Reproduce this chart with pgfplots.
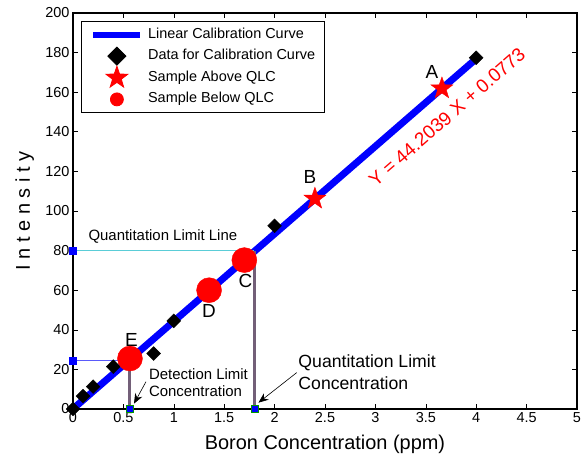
\documentclass[border=0pt]{standalone}
\usepackage{fontspec}
\setmainfont{Liberation Sans}
\usepackage{pgfplots}
\pgfplotsset{compat=1.18}
\usetikzlibrary{arrows.meta}

% filled five-pointed star (MATLAB pentagram)
\pgfdeclareplotmark{fstar}{%
  \pgfpathmoveto{\pgfpointpolar{90}{\pgfplotmarksize}}%
  \pgfpathlineto{\pgfpointpolar{126}{0.4*\pgfplotmarksize}}%
  \pgfpathlineto{\pgfpointpolar{162}{\pgfplotmarksize}}%
  \pgfpathlineto{\pgfpointpolar{198}{0.4*\pgfplotmarksize}}%
  \pgfpathlineto{\pgfpointpolar{234}{\pgfplotmarksize}}%
  \pgfpathlineto{\pgfpointpolar{270}{0.4*\pgfplotmarksize}}%
  \pgfpathlineto{\pgfpointpolar{306}{\pgfplotmarksize}}%
  \pgfpathlineto{\pgfpointpolar{342}{0.4*\pgfplotmarksize}}%
  \pgfpathlineto{\pgfpointpolar{18}{\pgfplotmarksize}}%
  \pgfpathlineto{\pgfpointpolar{54}{0.4*\pgfplotmarksize}}%
  \pgfpathclose
  \pgfusepathqfillstroke}

\definecolor{qline}{RGB}{90,205,215}
\definecolor{dline}{RGB}{90,90,250}
\definecolor{vline}{RGB}{115,95,120}

\begin{document}
\begin{tikzpicture}
\begin{axis}[
  scale only axis, width=504bp, height=396bp,
  xmin=0, xmax=5, ymin=0, ymax=200,
  xtick={0,0.5,...,5}, ytick={0,20,...,200},
  tick align=inside, major tick length=5bp,
  axis line style={line width=1.2bp},
  tick style={black, line width=0.6bp},
  ticklabel style={font=\fontsize{14.5}{17}\selectfont},
  /pgf/number format/assume math mode=true,
  xlabel={Boron Concentration (ppm)}, ylabel={I n t e n s i t y},
  label style={font=\fontsize{20}{23}\selectfont},
  xlabel style={at={(axis description cs:0.5,-0.102)}, anchor=base},
  ylabel style={at={(axis description cs:-0.096,0.5)}, anchor=center},
  clip=false,
  legend cell align=left,
  legend style={at={(axis description cs:0.0159,0.9806)}, anchor=north west,
    draw=black, line width=0.8bp, fill=white,
    font=\fontsize{14.5}{17}\selectfont,
    inner xsep=9bp, inner ysep=7bp, row sep=8.6bp,
    nodes={inner sep=0bp, text height=10bp, text depth=3bp},
    /tikz/every odd column/.style={column sep=4.7bp}},
]
\addplot[blue, line width=7bp,
  legend image code/.code={\draw[blue, line width=6bp] (0bp,0bp) -- (47bp,0bp);}]
  coordinates {(0,0.0773)(4,176.89)};
\addlegendentry{Linear Calibration Curve}

\addplot[only marks, mark=square*, mark size=4.9bp, mark options={rotate=45, fill=black, draw=black},
  legend image code/.code={\path[draw=none] (0bp,0bp) -- (47bp,0bp);
    \path[overlay, draw=none] plot[mark size=6.4bp] coordinates {(23.5bp,0bp)};}]
  coordinates {(0,0)(0.1,6.5)(0.2,11.3)(0.4,21.4)(0.8,28)(1,44.5)(2,92.5)(4,177.4)};
\addlegendentry{Data for Calibration Curve}

\addplot[only marks, mark=fstar, mark size=11.5bp, red, mark options={fill=red, draw=red},
  legend image code/.code={\path[draw=none] (0bp,0bp) -- (47bp,0bp);
    \path[overlay, draw=none] plot[mark size=11.5bp] coordinates {(23.5bp,0bp)};}]
  coordinates {(3.66,161.9)(2.4,106.2)};
\addlegendentry{Sample Above QLC}

\addplot[only marks, mark=*, mark size=12.5bp, red, mark options={fill=red, draw=red},
  legend image code/.code={\path[draw=none] (0bp,0bp) -- (47bp,0bp);
    \path[overlay, draw=none] plot[mark size=6.5bp] coordinates {(23.5bp,0bp)};}]
  coordinates {(1.7,75.2)(1.35,60)(0.565,25.5)};
\addlegendentry{Sample Below QLC}

% quantitation limit
\addplot[qline, line width=1bp, forget plot] coordinates {(0,80)(1.8,80)};
\addplot[vline, line width=3bp, forget plot] coordinates {(1.8,80)(1.8,0)};
\addplot[only marks, mark=square*, mark size=3.5bp, blue, forget plot] coordinates {(0,80)};
\addplot[only marks, mark=square*, mark size=3.5bp, mark options={draw=green!60!black, fill=blue}, forget plot] coordinates {(1.8,0)};
% detection limit
\addplot[dline, line width=1bp, forget plot] coordinates {(0,24.6)(0.565,24.6)};
\addplot[vline, line width=3bp, forget plot] coordinates {(0.565,24.6)(0.565,0)};
\addplot[only marks, mark=square*, mark size=3.5bp, blue, forget plot] coordinates {(0,24.6)};
\addplot[only marks, mark=square*, mark size=3.5bp, mark options={draw=green!60!black, fill=blue}, forget plot] coordinates {(0.565,0)};

\begin{scope}[font=\fontsize{19}{22}\selectfont]
\node at (axis cs:3.56,170) {A};
\node at (axis cs:2.35,117) {B};
\node at (axis cs:1.71,64.8) {C};
\node at (axis cs:1.35,49.6) {D};
\node at (axis cs:0.58,34.9) {E};
\node[red, rotate=41] at (axis cs:3.71,147.5) {Y = 44.2039 X + 0.0773};
\end{scope}

\node[anchor=west, inner sep=0bp, font=\fontsize{15}{17}\selectfont] at (axis cs:0.152,87.1) {Quantitation Limit Line};
\node[anchor=west, inner sep=0bp, font=\fontsize{15}{16.7}\selectfont, align=left] at (axis cs:0.752,13.4) {Detection Limit\\Concentration};
\node[anchor=west, inner sep=0bp, font=\fontsize{17.7}{22}\selectfont, align=left] at (axis cs:2.235,18.4) {Quantitation Limit\\Concentration};

\draw[-{Stealth[length=10bp,width=8bp]}, line width=0.6bp] (axis cs:0.724,13.8) -- (axis cs:0.605,2.7);
\draw[-{Stealth[length=10bp,width=8bp]}, line width=0.6bp] (axis cs:2.22,18.4) -- (axis cs:1.84,3.2);
\end{axis}
\pgfresetboundingbox
\path ([xshift=-73bp,yshift=-49bp]current axis.south west) rectangle ([xshift=6bp,yshift=13bp]current axis.north east);
\end{tikzpicture}
\end{document}
